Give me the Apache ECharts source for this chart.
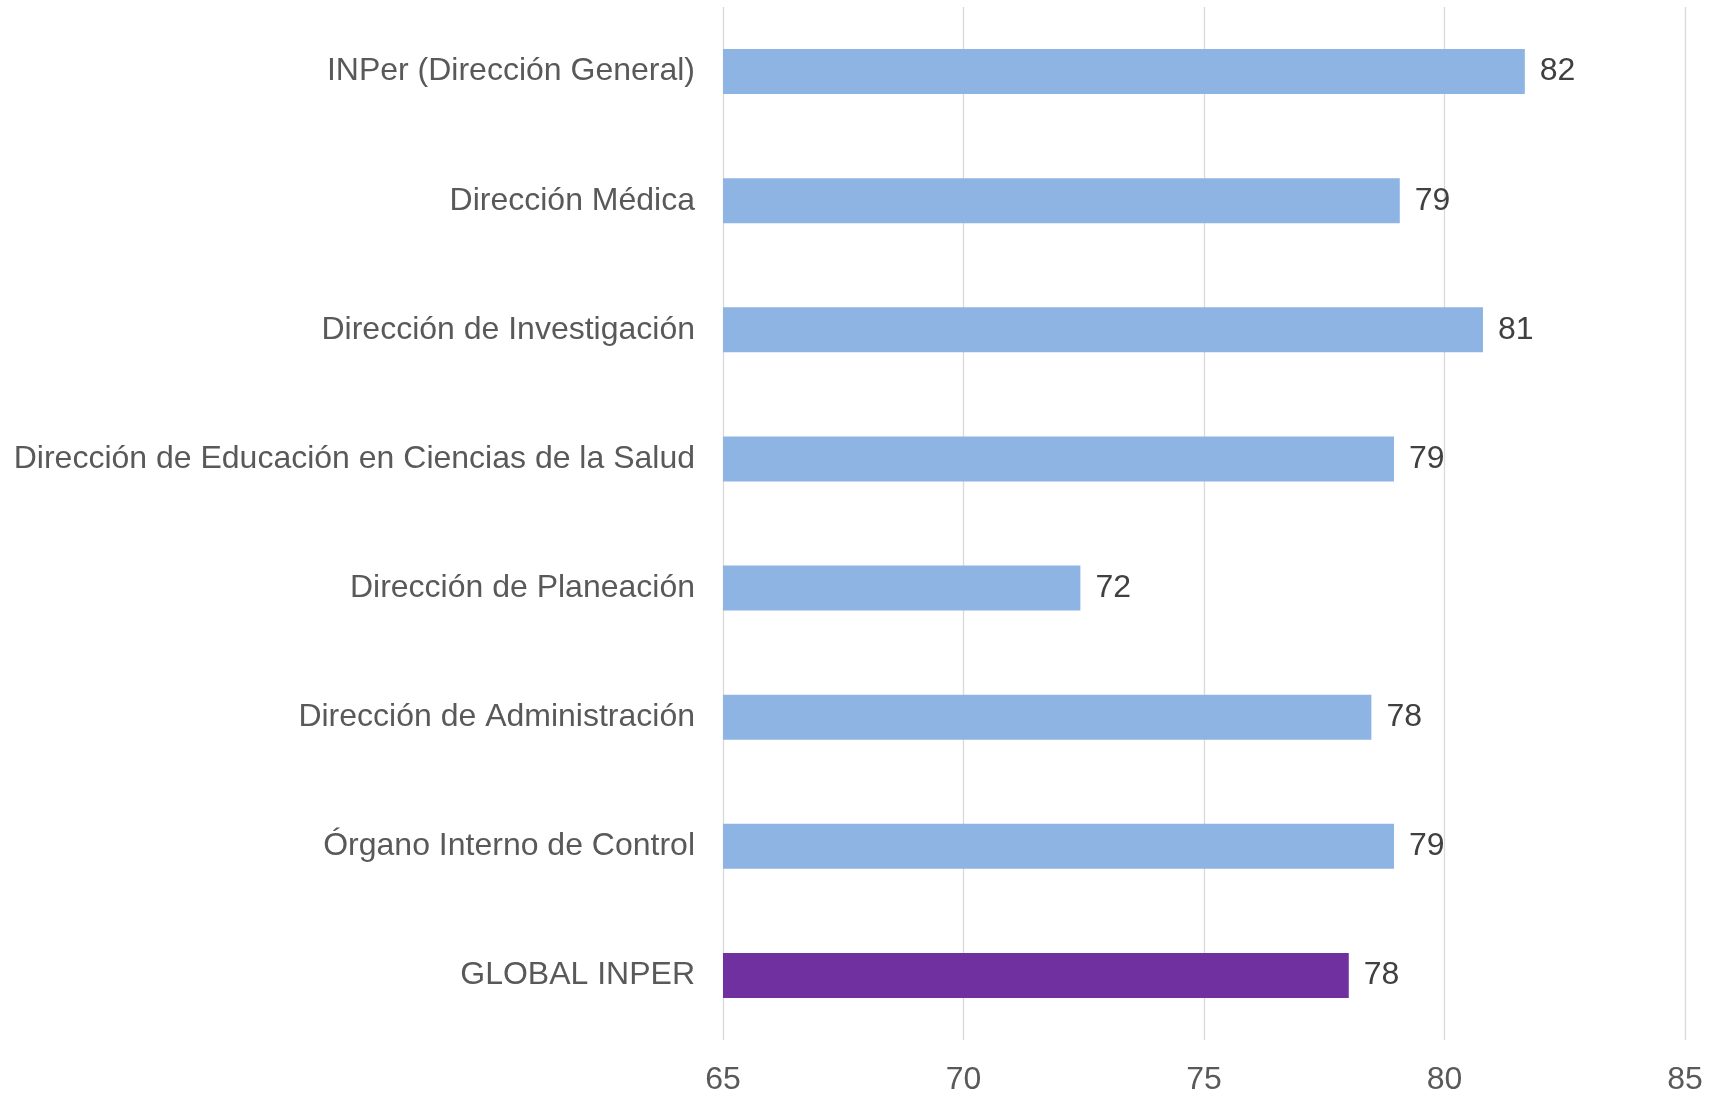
<!DOCTYPE html>
<html>
<head>
<meta charset="utf-8">
<script src="https://cdn.jsdelivr.net/npm/echarts@6/dist/echarts.min.js"></script>
<style>
html,body{margin:0;padding:0;background:#fff;}
#chart{width:1725px;height:1096px;}
</style>
</head>
<body>
<div id="chart"></div>
<script>
const categories = [
  "INPer (Dirección General)",
  "Dirección Médica",
  "Dirección de Investigación",
  "Dirección de Educación en Ciencias de la Salud",
  "Dirección de Planeación",
  "Dirección de Administración",
  "Órgano Interno de Control",
  "GLOBAL INPER"
];
const values = [81.67, 79.07, 80.8, 78.95, 72.43, 78.48, 78.95, 78.01];
const highlighted = ["GLOBAL INPER"];
const xTicks = { min: 65, max: 85, interval: 5 };

const chart = echarts.init(document.getElementById('chart'));
const font = '"Liberation Sans", Arial, sans-serif';
chart.setOption({
  animation: false,
  backgroundColor: '#ffffff',
  grid: { left: 723, right: 40, top: 7, bottom: 55, containLabel: false },
  xAxis: {
    type: 'value',
    min: xTicks.min, max: xTicks.max, interval: xTicks.interval,
    axisLine: { show: false },
    axisTick: { show: false },
    splitLine: { show: true, lineStyle: { color: '#d9d9d9', width: 1.3 } },
    axisLabel: { color: '#595959', fontSize: 32, fontFamily: font, margin: 24 }
  },
  yAxis: {
    type: 'category',
    data: categories,
    inverse: true,
    axisLine: { show: false },
    axisTick: { show: false },
    splitLine: { show: false },
    axisLabel: { color: '#595959', fontSize: 32, fontFamily: font, margin: 28, padding: [8, 0, 0, 0] }
  },
  series: [{
    type: 'bar',
    barWidth: 45,
    data: values.map((v, i) => ({
      value: v,
      itemStyle: { color: highlighted.includes(categories[i]) ? '#7030A0' : '#8EB4E3' }
    })),
    label: {
      show: true,
      position: 'right',
      distance: 15,
      color: '#404040',
      fontSize: 32,
      fontFamily: font,
      padding: [8, 0, 0, 0],
      formatter: p => Math.round(p.value)
    }
  }]
});
</script>
</body>
</html>
